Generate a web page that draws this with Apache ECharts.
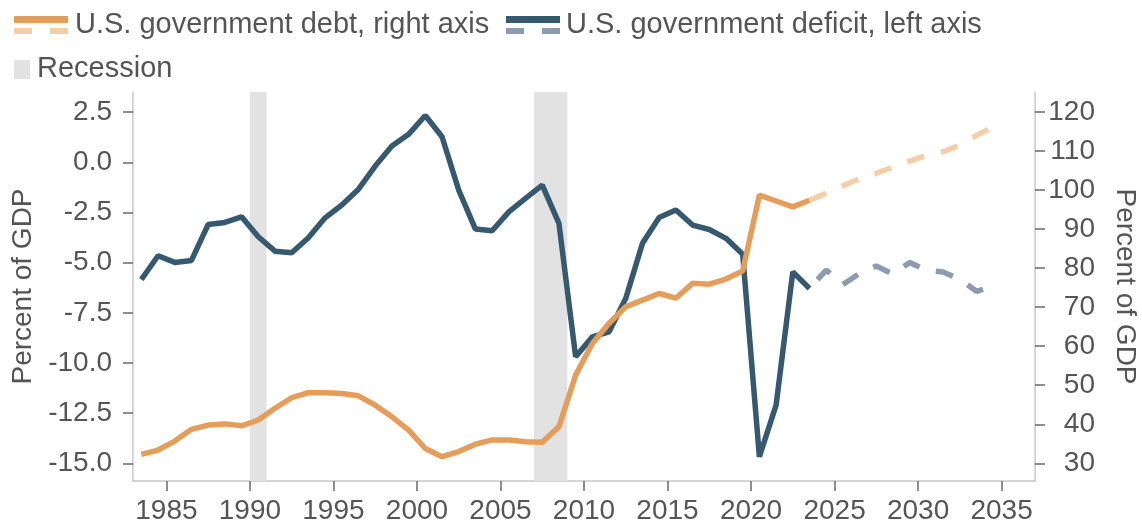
<!DOCTYPE html>
<html><head><meta charset="utf-8">
<script src="https://cdn.jsdelivr.net/npm/echarts@6/dist/echarts.min.js"></script>
<style>html,body{margin:0;padding:0;background:#fff}#c{width:1142px;height:524px}</style>
</head><body><div id="c"></div>
<script>
// Annual observations (plotted at mid-year)
const actualYears = [1983,1984,1985,1986,1987,1988,1989,1990,1991,1992,1993,1994,1995,1996,1997,1998,1999,2000,2001,2002,2003,2004,2005,2006,2007,2008,2009,2010,2011,2012,2013,2014,2015,2016,2017,2018,2019,2020,2021,2022,2023];
const deficitActual = [-5.84,-4.66,-4.99,-4.89,-3.10,-3.00,-2.72,-3.71,-4.43,-4.51,-3.76,-2.77,-2.13,-1.34,-0.19,0.81,1.39,2.33,1.27,-1.39,-3.33,-3.41,-2.47,-1.80,-1.14,-3.05,-9.69,-8.70,-8.45,-6.78,-4.04,-2.75,-2.38,-3.13,-3.35,-3.79,-4.58,-14.67,-12.10,-5.46,-6.29];
const debtActual = [32.3,33.4,35.7,38.7,39.8,40.1,39.6,41.1,44.1,46.8,48.1,48.1,47.9,47.3,44.9,41.9,38.5,33.8,31.7,33.0,34.9,36.0,36.0,35.5,35.4,39.4,52.6,60.7,65.9,70.1,71.8,73.5,72.3,76.1,75.9,77.2,79.3,98.7,97.2,95.7,97.4];
// Projections (first entry = last actual year, so the lines join)
const projYears = [2023,2024,2025,2026,2027,2028,2029,2030,2031,2032,2033,2034];
const deficitProj = [-6.29,-5.37,-6.09,-5.54,-5.17,-5.57,-4.99,-5.37,-5.47,-5.82,-6.43,-6.17];
const debtProj = [97.4,99.2,101.1,102.9,104.3,105.9,107.4,108.9,109.8,111.5,114.0,116.2];
// Recession periods
const recessions = [[1990,1991],[2007,2009]];
// Tick labels
const xTicks = [1985,1990,1995,2000,2005,2010,2015,2020,2025,2030,2035];
const leftTicks = [-15,-12.5,-10,-7.5,-5,-2.5,0,2.5];
const rightTicks = [30,40,50,60,70,80,90,100,110,120];

const midYear = y => y + 0.5;
const pairs = (ys, vs) => ys.map((y, i) => [midYear(y), vs[i]]);

const FONT = "'Liberation Sans', Arial, sans-serif";
const TXT = '#555555';
const C = {debt:'#E49D5A', debtP:'#F3CEA9', def:'#36596F', defP:'#8D9BAF', rec:'#E2E2E2', axis:'#C8C8C8', tick:'#6a6a6a'};

const chart = echarts.init(document.getElementById('c'), null, {renderer:'canvas'});

const legendGraphic = [
  {type:'rect', shape:{x:14,y:16,width:54,height:7}, style:{fill:C.debt}},
  {type:'rect', shape:{x:14,y:28,width:18,height:6}, style:{fill:C.debtP}},
  {type:'rect', shape:{x:50,y:28,width:18,height:6}, style:{fill:C.debtP}},
  {type:'text', x:75, y:25, style:{text:'U.S. government debt, right axis', font:"29px "+FONT, fill:TXT, verticalAlign:'middle'}},
  {type:'rect', shape:{x:506,y:16,width:54,height:7}, style:{fill:C.def}},
  {type:'rect', shape:{x:506,y:28,width:18,height:6}, style:{fill:C.defP}},
  {type:'rect', shape:{x:542,y:28,width:18,height:6}, style:{fill:C.defP}},
  {type:'text', x:566, y:25, style:{text:'U.S. government deficit, left axis', font:"29px "+FONT, fill:TXT, verticalAlign:'middle'}},
  {type:'rect', shape:{x:14,y:60,width:16,height:19}, style:{fill:C.rec}},
  {type:'text', x:37, y:69, style:{text:'Recession', font:"29px "+FONT, fill:TXT, verticalAlign:'middle'}}
];

const option = {
  animation:false,
  backgroundColor:'#fff',
  textStyle:{fontFamily:FONT},
  grid:{left:133, right:107, top:92, bottom:43, containLabel:false, outerBoundsMode:'none'},
  graphic:legendGraphic,
  xAxis:{
    type:'value', min:1983, max:2037,
    axisLine:{show:true, onZero:false, lineStyle:{color:C.axis, width:1.5}},
    axisTick:{show:true, customValues:xTicks, length:10, lineStyle:{color:C.tick, width:1.5}},
    axisLabel:{customValues:xTicks, formatter:v=>String(v), fontSize:28, color:TXT, margin:16, fontFamily:FONT},
    splitLine:{show:false}
  },
  yAxis:[
    {type:'value', position:'left', min:-15.88, max:3.5,
     axisLine:{show:true, onZero:false, lineStyle:{color:C.axis, width:1.5}},
     axisTick:{show:true, customValues:leftTicks, length:10, lineStyle:{color:C.tick, width:1.5}},
     axisLabel:{customValues:leftTicks, formatter:v=>v.toFixed(1), fontSize:28, color:TXT, margin:21, fontFamily:FONT},
     splitLine:{show:false},
     name:'Percent of GDP', nameLocation:'middle', nameGap:89,
     nameTextStyle:{fontSize:28, color:TXT, fontFamily:FONT}},
    {type:'value', position:'right', min:25.47, max:125.12,
     axisLine:{show:true, onZero:false, lineStyle:{color:C.axis, width:1.5}},
     axisTick:{show:true, customValues:rightTicks, length:10, lineStyle:{color:C.tick, width:1.5}},
     axisLabel:{customValues:rightTicks, formatter:v=>String(v), fontSize:28, color:TXT, margin:60, align:'right', fontFamily:FONT},
     splitLine:{show:false},
     name:'Percent of GDP', nameLocation:'middle', nameGap:76, nameRotate:-90,
     nameTextStyle:{fontSize:28, color:TXT, fontFamily:FONT}}
  ],
  series:[
    {name:'U.S. government deficit, left axis', type:'line', yAxisIndex:0, data:pairs(actualYears, deficitActual),
     showSymbol:false, symbol:'none', lineStyle:{color:C.def, width:5.5}, itemStyle:{color:C.def},
     markArea:{silent:true, z:1, itemStyle:{color:C.rec}, label:{show:false},
       data:recessions.map(r=>[{xAxis:r[0]},{xAxis:r[1]}])}},
    {name:'Deficit projection', type:'line', yAxisIndex:0, data:pairs(projYears, deficitProj),
     showSymbol:false, symbol:'none', lineStyle:{color:C.defP, width:5.5, type:[18,17], dashOffset:23}},
    {name:'U.S. government debt, right axis', type:'line', yAxisIndex:1, data:pairs(actualYears, debtActual),
     showSymbol:false, symbol:'none', lineStyle:{color:C.debt, width:5.5}, itemStyle:{color:C.debt}},
    {name:'Debt projection', type:'line', yAxisIndex:1, data:pairs(projYears, debtProj),
     showSymbol:false, symbol:'none', lineStyle:{color:C.debtP, width:5.5, type:[18,17]}}
  ]
};
chart.setOption(option);
</script>
</body></html>
